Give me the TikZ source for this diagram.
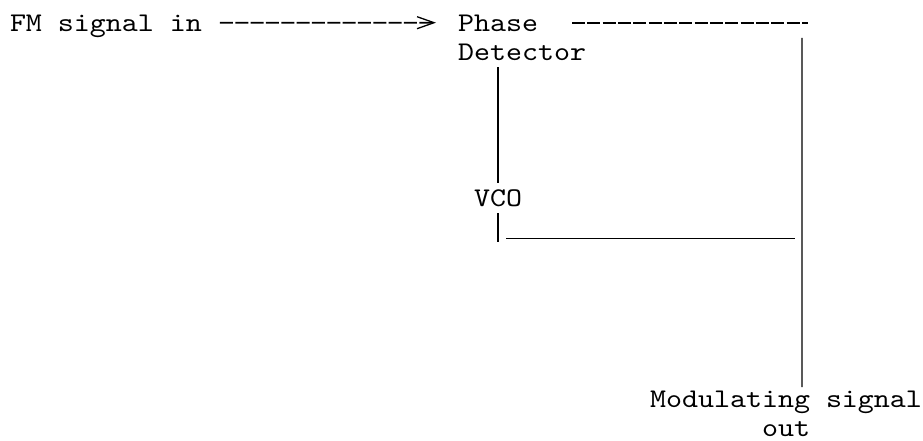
\documentclass[tikz,border=0pt]{standalone}
\usepackage{fontspec}
\newfontfamily\asciifont{lmmono10-regular.otf}[FakeStretch=1.1287]
\usetikzlibrary{arrows.meta}
\tikzset{
  lbl/.style={inner sep=0pt, outer sep=0pt, text=black,
    font=\asciifont\fontsize{27}{29.1}\selectfont},
  hy/.style={line width=1.8pt, dash pattern=on 13pt off 2.33pt},
  bar/.style={line width=1.4pt},
  tipgt/.style={-{Straight Barb[length=17pt,width=12pt,line width=1.3pt,sep=4pt]}},
}
\begin{document}
\begin{tikzpicture}[x=1pt,y=-1pt]
\useasboundingbox (0,0) rectangle (923,441);
% labels (base of a two-line node = baseline of its last line)
\node[lbl, anchor=base west] (fm) at (10,31.5) {FM signal in};
\node[lbl, anchor=base west, align=left] (pd) at (458,60.6) {Phase\\Detector};
\node[lbl, anchor=base west] (vco) at (474,206.1) {VCO};
\node[lbl, anchor=base west, align=center] (out) at (650,436.8) {Modulating signal\\out};
% FM signal in ---> Phase Detector
\draw[hy, tipgt] ([xshift=18pt,yshift=8.8pt]fm.base east) -- ([xshift=-18pt,yshift=37.9pt]pd.base west);
% Phase Detector ---- to output line
\draw[hy] ([xshift=114pt,yshift=37.9pt]pd.base west) -- ([xshift=350pt,yshift=37.9pt]pd.base west);
\draw[bar] ([xshift=344pt,yshift=22.6pt]pd.base west) -- ([xshift=16pt,yshift=4pt]out.north);
% Phase Detector | VCO
\draw[bar] ([yshift=-6.4pt]vco.north |- pd.south) -- ([yshift=6.6pt]vco.north);
% VCO |_____ to right line
\draw[bar] ([yshift=-7pt]vco.south) -- ([yshift=-36pt]vco.south);
\draw[bar] ([xshift=8pt,yshift=-32pt]vco.south) -- ([xshift=297pt,yshift=-32pt]vco.south);
\end{tikzpicture}
\end{document}
